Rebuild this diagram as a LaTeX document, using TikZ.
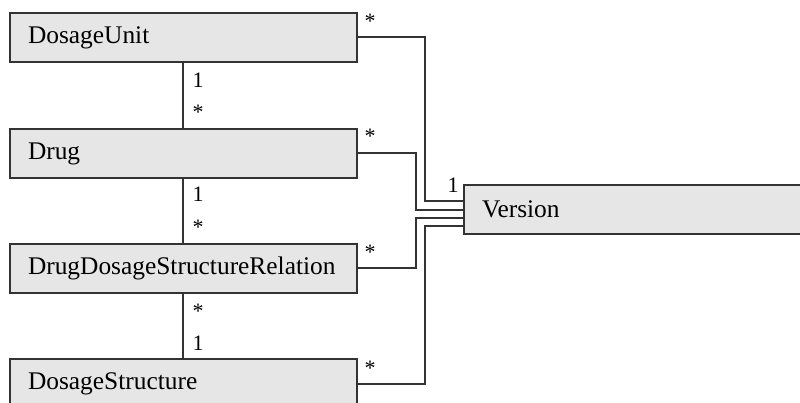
\documentclass[tikz,border=0pt]{standalone}
\usepackage{fontspec}
\setmainfont{Liberation Serif}
\usetikzlibrary{positioning,calc}
\definecolor{boxfill}{HTML}{E6E6E6}
\definecolor{boxline}{HTML}{333333}

\begin{document}
\begin{tikzpicture}[x=1pt,y=-1pt,
  entity/.style={draw=boxline,fill=boxfill,line width=2pt,anchor=north west,
    minimum height=49pt,inner xsep=18pt,text width=311pt,align=left,
    font=\fontsize{25.4}{30}\selectfont},
  link/.style={draw=boxline,line width=2pt},
  mult/.style={font=\fontsize{22}{26}\selectfont,inner sep=0pt,anchor=base}]
\useasboundingbox (0,0) rectangle (800,403);

\node[entity] (unit) at (9,12) {DosageUnit};
\node[entity] (drug) at (9,128) {Drug};
\node[entity] (rel) at (9,243) {DrugDosageStructureRelation};
\node[entity] (struct) at (9,358) {DosageStructure};
\node[entity] (version) at (463,184) {Version};

\coordinate (v1) at ($(version.west)+(0,-8)$);
\coordinate (v2) at ($(version.west)+(0,1)$);
\coordinate (v3) at ($(version.west)+(0,9)$);
\coordinate (v4) at ($(version.west)+(0,17)$);

\draw[link] (unit.east) -- ++(67,0) |- (v1);
\draw[link] (drug.east) -- ++(58,0) |- (v2);
\draw[link] (rel.east) -- ++(58,0) |- (v3);
\draw[link] (struct.east) -- ++(67,0) |- (v4);

\draw[link] ([xshift=174pt]unit.south west) -- ([xshift=174pt]drug.north west);
\draw[link] ([xshift=174pt]drug.south west) -- ([xshift=174pt]rel.north west);
\draw[link] ([xshift=174pt]rel.south west) -- ([xshift=174pt]struct.north west);

\node[mult] (m1) at (370,29) {*};
\node[mult] (m2) at (370,144) {*};
\node[mult] (m3) at (370,260) {*};
\node[mult] (m4) at (370,375) {*};
\node[mult] (m5) at (453,193) {1};
\node[mult] (m6) at (198,88) {1};
\node[mult] (m7) at (198,120) {*};
\node[mult] (m8) at (198,202) {1};
\node[mult] (m9) at (198,235) {*};
\node[mult] (m10) at (198,318) {*};
\node[mult] (m11) at (198,350) {1};

\end{tikzpicture}
\end{document}
